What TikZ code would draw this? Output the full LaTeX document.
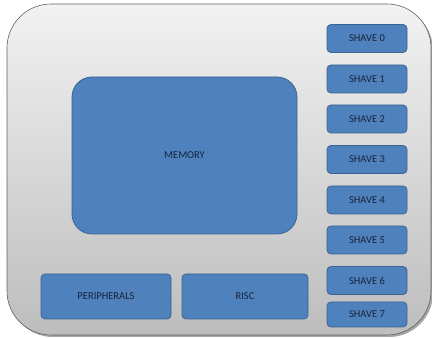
\documentclass[tikz,border=0pt]{standalone}
\usepackage{tikz}
\usepackage{fontspec}
\setmainfont{Carlito}
\definecolor{blockblue}{HTML}{4F81BD}
\definecolor{blockedge}{HTML}{3A6494}
\definecolor{labeltext}{HTML}{17233A}
\definecolor{boardtop}{HTML}{F2F2F2}
\definecolor{boardbot}{HTML}{BDBDBD}

\begin{document}
\begin{tikzpicture}[x=1pt,y=-1pt,
        block/.style={rectangle, rounded corners=4pt, fill=blockblue, draw=blockedge,
            line width=0.8pt, text=labeltext, font=\fontsize{10.5}{12}\selectfont, inner sep=0pt},
        shave/.style={block, minimum width=80pt, minimum height=28pt}]

    \useasboundingbox (0,0) rectangle (432,339);

    % board
    \fill[gray!70, rounded corners=44pt] (9,6) rectangle (433,337);
    \path[top color=boardtop, bottom color=boardbot, draw=gray!75!black, line width=0.6pt,
        rounded corners=44pt] (7,4) rectangle (431,335);

    \node[block, rounded corners=20pt, minimum width=225pt, minimum height=157pt] (mem) at (184.5,155.5) {MEMORY};
    \node[block, minimum width=130pt, minimum height=45pt] (periph) at (106,296.5) {PERIPHERALS};
    \node[block, minimum width=126pt, minimum height=45pt] (risc) at (245,296.5) {RISC};

    \node[shave] (s0) at (367,38.5) {SHAVE 0};
    \node[shave] (s1) at (367,79) {SHAVE 1};
    \node[shave] (s2) at (367,119) {SHAVE 2};
    \node[shave] (s3) at (367,159.5) {SHAVE 3};
    \node[shave] (s4) at (367,200) {SHAVE 4};
    \node[shave] (s5) at (367,240) {SHAVE 5};
    \node[shave] (s6) at (367,280.5) {SHAVE 6};
    \node[shave, minimum height=25pt] (s7) at (367,314.5) {SHAVE 7};

\end{tikzpicture}
\end{document}
